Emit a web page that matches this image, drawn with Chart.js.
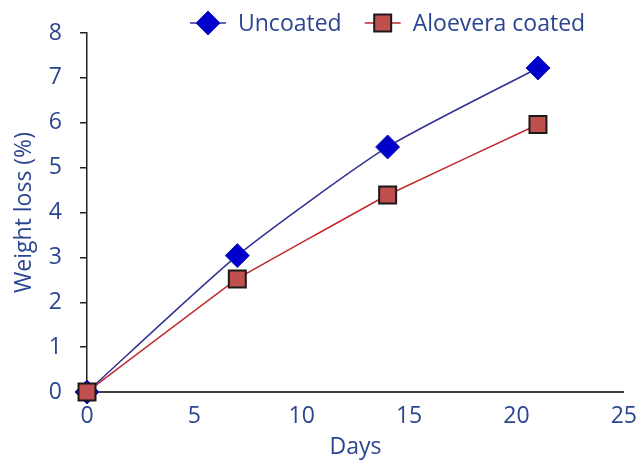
<!DOCTYPE html>
<html lang="en">
<head>
  <meta charset="UTF-8" />
  <title>Weight loss</title>
  <script src="https://cdn.jsdelivr.net/npm/chart.js"></script>
  <style>
    html, body { margin: 0; padding: 0; background: #fff; }
    .wrap { width: 638px; height: 462px; position: relative; }
  </style>
</head>
<body>
  <div class="wrap"><canvas id="chart"></canvas></div>

  <script>
    const days = [0, 7, 14, 21];
    const uncoated = [0, 3.04, 5.46, 7.22];
    const aloevera = [0, 2.52, 4.39, 5.96];
    const xTicks = [0, 5, 10, 15, 20, 25];
    const yTicks = [0, 1, 2, 3, 4, 5, 6, 7, 8];

    const textColor = '#2B4592';
    const font = "'Open Sans', Lato, sans-serif";
    const fontSize = 23;

    // office-style legend: short line through the marker, then the label
    const lineLegend = {
      id: 'lineLegend',
      afterDraw(chart) {
        const ctx = chart.ctx;
        const cy = 23;
        let x = 190;
        ctx.save();
        ctx.font = `${fontSize}px ${font}`;
        ctx.textBaseline = 'middle';
        chart.data.datasets.forEach(ds => {
          const cx = x + 18;
          ctx.strokeStyle = ds.borderColor;
          ctx.lineWidth = 1.5;
          ctx.beginPath();
          ctx.moveTo(x, cy);
          ctx.lineTo(x + 36, cy);
          ctx.stroke();
          ctx.fillStyle = ds.pointBackgroundColor;
          ctx.strokeStyle = ds.pointBorderColor;
          ctx.lineWidth = ds.pointBorderWidth;
          Chart.helpers.drawPoint(ctx, {
            pointStyle: ds.pointStyle,
            radius: ds.pointRadius,
            borderWidth: ds.pointBorderWidth,
            rotation: 0
          }, cx, cy);
          ctx.fillStyle = textColor;
          ctx.fillText(ds.label, cx + 30, cy + 1);
          x = cx + 30 + ctx.measureText(ds.label).width + 23;
        });
        ctx.restore();
      }
    };

    new Chart(document.getElementById('chart').getContext('2d'), {
      type: 'line',
      data: {
        datasets: [
          {
            label: 'Uncoated',
            data: days.map((d, i) => ({ x: d, y: uncoated[i] })),
            borderColor: '#2E3192',
            borderWidth: 1.5,
            pointStyle: 'rectRot',
            pointRadius: 12,
            pointBackgroundColor: '#0000CC',
            pointBorderColor: '#1A1AB8',
            pointBorderWidth: 1,
            tension: 0.2,
            clip: false,
            order: 1
          },
          {
            label: 'Aloevera coated',
            data: days.map((d, i) => ({ x: d, y: aloevera[i] })),
            borderColor: '#C0282D',
            borderWidth: 1.5,
            pointStyle: 'rect',
            pointRadius: 12,
            pointBackgroundColor: '#C0504D',
            pointBorderColor: '#1a1a1a',
            pointBorderWidth: 2,
            tension: 0.05,
            clip: false,
            order: 0
          }
        ]
      },
      options: {
        responsive: true,
        maintainAspectRatio: false,
        animation: false,
        layout: { padding: { left: 4, right: 8, top: 33, bottom: 0 } },
        plugins: {
          tooltip: { enabled: false },
          legend: { display: false }
        },
        scales: {
          x: {
            type: 'linear',
            min: 0,
            max: 25,
            afterBuildTicks: axis => { axis.ticks = xTicks.map(v => ({ value: v })); },
            afterFit: axis => { axis.height = 70; },
            border: { color: '#404040', width: 2 },
            grid: { display: false, drawTicks: true, tickLength: 10 },
            ticks: { color: textColor, font: { family: font, size: fontSize }, padding: 1, maxRotation: 0 },
            title: { display: true, text: 'Days', color: textColor, font: { family: font, size: fontSize }, padding: { top: 0, bottom: 1 } }
          },
          y: {
            min: 0,
            max: 8,
            afterBuildTicks: axis => { axis.ticks = yTicks.map(v => ({ value: v })); },
            afterFit: axis => { axis.width = 83; },
            border: { color: '#202020', width: 1.5 },
            grid: { drawOnChartArea: false, color: '#202020', tickLength: 7, lineWidth: 1.5 },
            ticks: { color: textColor, font: { family: font, size: fontSize }, padding: 18 },
            title: { display: true, text: 'Weight loss (%)', color: textColor, font: { family: font, size: fontSize }, padding: { top: 7, bottom: 1 } }
          }
        }
      },
      plugins: [lineLegend]
    });
  </script>
</body>
</html>
